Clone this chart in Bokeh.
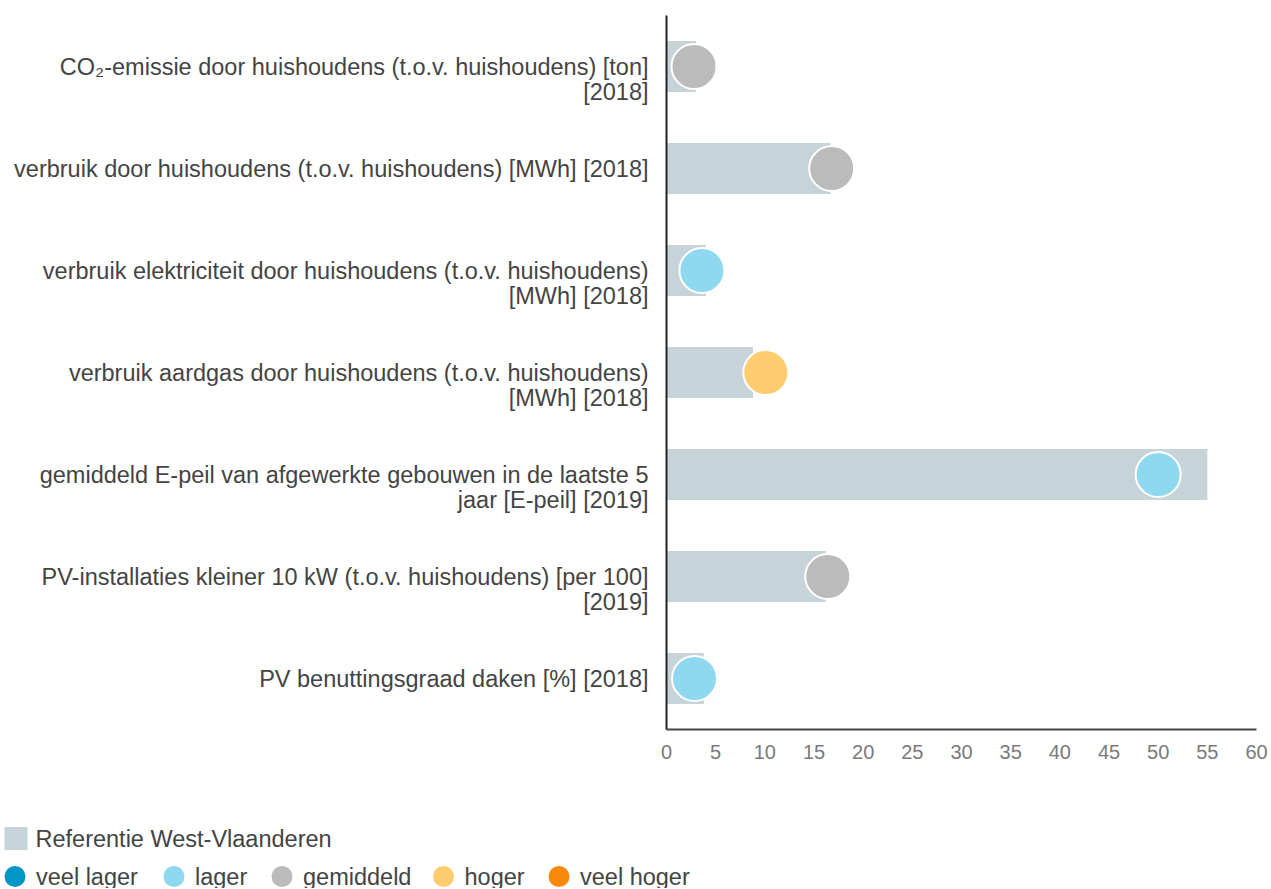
from bokeh.plotting import figure
from bokeh.models import FactorRange, Range1d, ColumnDataSource, FixedTicker
from bokeh.embed import file_html
from bokeh.resources import INLINE
from bokeh.core.properties import value

# ---------------- data ----------------
label_lines = [
    ["CO\u2082-emissie door huishoudens (t.o.v. huishoudens) [ton]", "[2018]"],
    ["verbruik door huishoudens (t.o.v. huishoudens) [MWh] [2018]"],
    ["verbruik elektriciteit door huishoudens (t.o.v. huishoudens)", "[MWh] [2018]"],
    ["verbruik aardgas door huishoudens (t.o.v. huishoudens)", "[MWh] [2018]"],
    ["gemiddeld E-peil van afgewerkte gebouwen in de laatste 5", "jaar [E-peil] [2019]"],
    ["PV-installaties kleiner 10 kW (t.o.v. huishoudens) [per 100]", "[2019]"],
    ["PV benuttingsgraad daken [%] [2018]"],
]
reference = [3.0, 16.7, 4.0, 8.8, 55.0, 16.2, 3.8]
values = [2.8, 16.8, 3.6, 10.1, 50.0, 16.4, 2.85]
classes = ["gemiddeld", "gemiddeld", "lager", "hoger", "lager", "gemiddeld", "lager"]

class_names = ["veel lager", "lager", "gemiddeld", "hoger", "veel hoger"]
class_colors = ["#0096c6", "#8ed8f0", "#bbbbbb", "#ffcc70", "#f8890c"]
reference_name = "Referentie West-Vlaanderen"
ref_color = "#c6d4da"
x_ticks = list(range(0, 61, 5))

# ---------------- layout / style ----------------
FONT = "Liberation Sans"
TEXT_COLOR = "#444444"
LABEL_SIZE = "23.5px"


def make_factor(lines):
    # first line sits on the category centre, extra lines continue below it
    if len(lines) == 1:
        return lines[0]
    return "\n".join([""] * (len(lines) - 1) + lines)


factors = [make_factor(l) for l in label_lines]
cmap = dict(zip(class_names, class_colors))

src = ColumnDataSource(dict(
    y=factors,
    ref=reference,
    val=values,
    color=[cmap[c] for c in classes],
))

p = figure(
    width=1268, height=800,
    y_range=FactorRange(*factors[::-1]),
    x_range=Range1d(0, 60),
    output_backend="svg", toolbar_location=None,
    min_border_left=666, min_border_right=12,
    min_border_top=15, min_border_bottom=71,
)
p.outline_line_color = None
p.xgrid.visible = False
p.ygrid.visible = False

p.hbar(y="y", left=0, right="ref", height=0.5, source=src,
       fill_color=ref_color, line_color=None)
p.scatter(x="val", y="y", size=45, source=src, fill_color="color",
          line_color="white", line_width=2)

p.xaxis.ticker = FixedTicker(ticks=x_ticks)
p.xaxis.axis_line_color = "#444444"
p.xaxis.axis_line_width = 2
p.xaxis.major_tick_line_color = None
p.xaxis.major_tick_out = 0
p.xaxis.minor_tick_line_color = None
p.xaxis.major_label_standoff = 15
p.xaxis.major_label_text_font = FONT
p.xaxis.major_label_text_font_size = "20px"
p.xaxis.major_label_text_color = "#7a7a7a"

p.yaxis.axis_line_color = "#222222"
p.yaxis.axis_line_width = 2
p.yaxis.major_tick_line_color = None
p.yaxis.major_tick_out = 0
p.yaxis.minor_tick_line_color = None
p.yaxis.major_label_standoff = 18
p.yaxis.major_label_text_font = FONT
p.yaxis.major_label_text_font_size = LABEL_SIZE
p.yaxis.major_label_text_color = TEXT_COLOR
p.yaxis.major_label_text_line_height = 0.98

# ---------------- legend (separate strip) ----------------
leg = figure(
    width=1268, height=88,
    x_range=Range1d(0, 1268), y_range=Range1d(88, 0),
    output_backend="svg", toolbar_location=None,
    min_border=0,
)
leg.outline_line_color = None
leg.axis.visible = False
leg.grid.visible = False

# layout positions of the legend entries (pixels within the strip)
ref_row_y = 38
cls_row_y = 76
cls_x = [14.5, 173.5, 281.5, 443, 558.5]

leg.scatter(x=[15.5], y=[ref_row_y], size=23, marker="square",
            fill_color=ref_color, line_color=None)
leg.text(x=[35], y=[ref_row_y], text=[reference_name],
         text_font=value(FONT), text_font_size=LABEL_SIZE,
         text_color=TEXT_COLOR, text_baseline="middle")

lsrc = ColumnDataSource(dict(
    x=cls_x, tx=[x + 21 for x in cls_x], y=[cls_row_y] * len(cls_x),
    name=class_names, color=class_colors,
))
leg.scatter(x="x", y="y", size=21, source=lsrc, fill_color="color",
            line_color=None)
leg.text(x="tx", y="y", text="name", source=lsrc,
         text_font=value(FONT), text_font_size=LABEL_SIZE,
         text_color=TEXT_COLOR, text_baseline="middle")

open("out.html", "w").write(file_html([p, leg], INLINE))
